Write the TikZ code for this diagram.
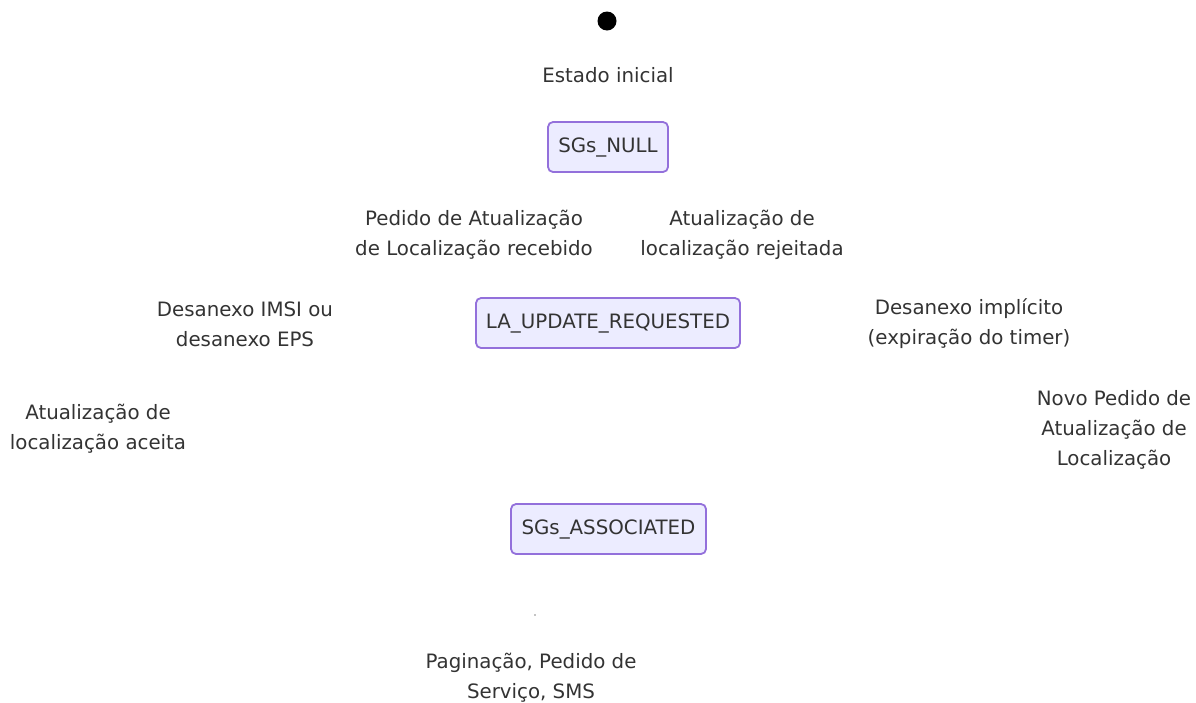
\documentclass[tikz,border=0pt]{standalone}
\usepackage{fontspec}
\setmainfont{DejaVu Sans}
\definecolor{txt}{HTML}{333333}
\definecolor{boxfill}{HTML}{ECECFF}
\definecolor{boxline}{HTML}{9370DB}
\begin{document}
\begin{tikzpicture}[x=1pt,y=-1pt,
  every node/.style={font=\fontsize{19.8pt}{30pt}\selectfont, text=txt},
  statebox/.style={draw=boxline, fill=boxfill, line width=1.8pt, rounded corners=5pt, inner sep=0pt, text height=14.5pt, text depth=3.5pt},
  lbl/.style={align=center, inner sep=0pt}]
\useasboundingbox (0,0) rectangle (1196,702);
\fill[black] (607,21) circle (9.5);
\coordinate (start) at (607,21);
\node[lbl] (l0) at (608,75) {Estado inicial};
\node[statebox, minimum width=120pt, minimum height=50pt] (null) at (608,147) {SGs\_NULL};
\node[lbl] (l1) at (474,235) {Pedido de Atualização\\de Localização recebido};
\node[lbl] (l2) at (742,235) {Atualização de\\localização rejeitada};
\node[statebox, minimum width=264pt, minimum height=50pt] (req) at (608,323) {LA\_UPDATE\_REQUESTED};
\node[lbl] (l3) at (245,324) {Desanexo IMSI ou\\desanexo EPS};
\node[lbl] (l4) at (969,324) {Desanexo implícito\\(expiração do timer)};
\node[lbl] (l5) at (98,429) {Atualização de\\localização aceita};
\node[lbl] (l6) at (1114,430) {Novo Pedido de\\Atualização de\\Localização};
\node[statebox, minimum width=195pt, minimum height=50pt] (assoc) at (608.5,529) {SGs\_ASSOCIATED};
\fill[black] (535,615) circle (0.6);
\node[lbl] (l7) at (531,678) {Paginação, Pedido de\\Serviço, SMS};
\end{tikzpicture}
\end{document}
